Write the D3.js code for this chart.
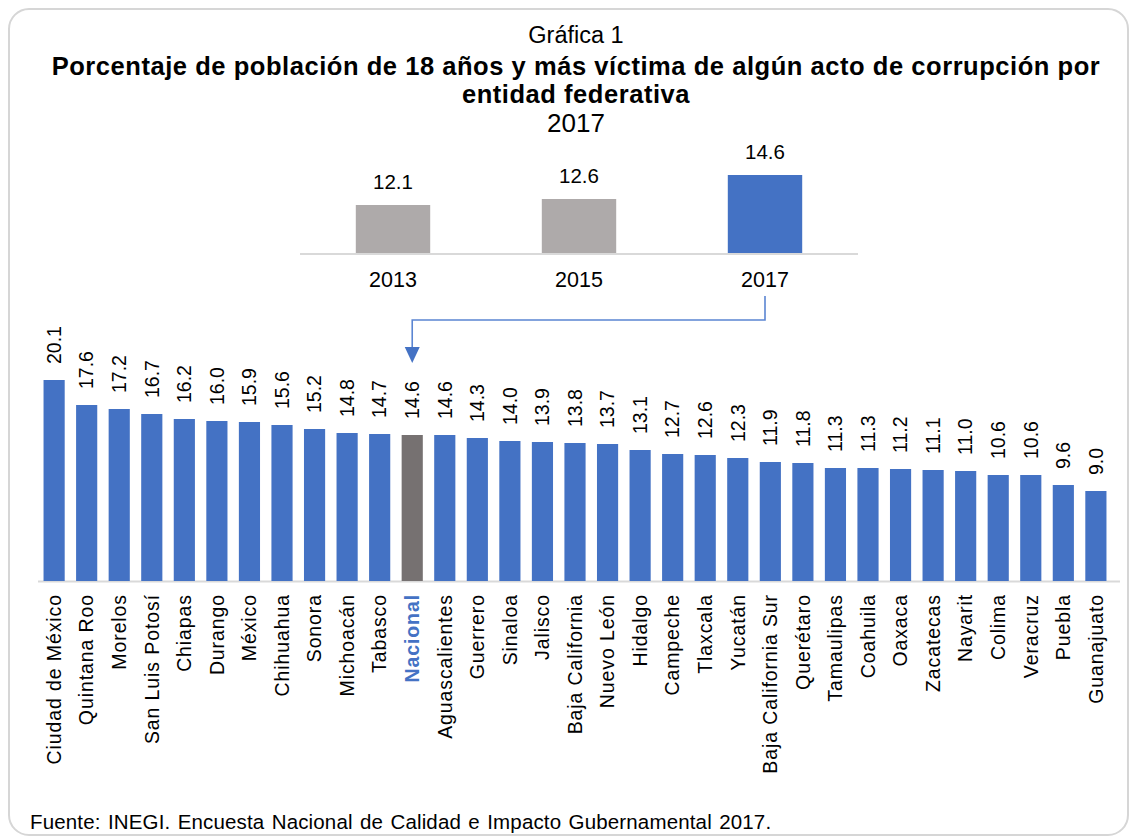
<!DOCTYPE html>
<html>
<head>
<meta charset="utf-8">
<script src="https://cdn.jsdelivr.net/npm/d3@7"></script>
<style>
	html, body { margin: 0; padding: 0; background: #fff; }
	svg { display: block; font-family: "Liberation Sans", Arial, sans-serif; }
</style>
</head>
<body>
<div id="chart"></div>
<script>
// Inset: national value per survey year
var years = ['2013', '2015', '2017'];
var nationalValues = [12.1, 12.6, 14.6];

// Main: states, sorted as in the original
var states = ['Ciudad de México', 'Quintana Roo', 'Morelos', 'San Luis Potosí', 'Chiapas', 'Durango', 'México',
	'Chihuahua', 'Sonora', 'Michoacán', 'Tabasco', 'Nacional', 'Aguascalientes', 'Guerrero', 'Sinaloa', 'Jalisco',
	'Baja California', 'Nuevo León', 'Hidalgo', 'Campeche', 'Tlaxcala', 'Yucatán', 'Baja California Sur', 'Querétaro',
	'Tamaulipas', 'Coahuila', 'Oaxaca', 'Zacatecas', 'Nayarit', 'Colima', 'Veracruz', 'Puebla', 'Guanajuato'];
var stateValues = [20.1, 17.6, 17.2, 16.7, 16.2, 16.0, 15.9, 15.6, 15.2, 14.8, 14.7, 14.6, 14.6, 14.3, 14.0, 13.9,
	13.8, 13.7, 13.1, 12.7, 12.6, 12.3, 11.9, 11.8, 11.3, 11.3, 11.2, 11.1, 11.0, 10.6, 10.6, 9.6, 9.0];

var attrs = {
	width: 1133,
	height: 838,
	blue: '#4472C4',
	grayInset: '#AEAAAA',
	grayNacional: '#767171',
	axisColor: '#D9D9D9',
	textColor: '#000'
};

var fmt = d3.format('.1f');

var svg = d3.select('#chart').append('svg')
	.attr('width', attrs.width)
	.attr('height', attrs.height);

// Frame
svg.append('rect')
	.attr('x', 9).attr('y', 9)
	.attr('width', 1119).attr('height', 826)
	.attr('rx', 20).attr('ry', 20)
	.attr('fill', '#fff')
	.attr('stroke', '#D6D6D6')
	.attr('stroke-width', 2);

// Titles
var cx = 576;
svg.append('text').attr('x', cx).attr('y', 43).attr('text-anchor', 'middle')
	.style('font-size', '23.5px').text('Gráfica 1');
svg.append('text').attr('x', cx).attr('y', 75).attr('text-anchor', 'middle')
	.style('font-size', '25.5px').style('font-weight', 'bold').style('letter-spacing', '0.55px')
	.text('Porcentaje de población de 18 años y más víctima de algún acto de corrupción por');
svg.append('text').attr('x', cx).attr('y', 102.5).attr('text-anchor', 'middle')
	.style('font-size', '25.5px').style('font-weight', 'bold').style('letter-spacing', '0.55px')
	.text('entidad federativa');
svg.append('text').attr('x', cx).attr('y', 132).attr('text-anchor', 'middle')
	.style('font-size', '26px').text('2017');

// ---------- Inset chart ----------
var xi = d3.scaleBand().domain(years).range([300, 858]).paddingInner(0.6).paddingOuter(0.3);
var yi = d3.scaleLinear().domain([8.1, 14.6]).range([253, 175]);
var inset = years.map((y, i) => ({ year: y, value: nationalValues[i] }));

svg.append('line')
	.attr('x1', 300).attr('x2', 858)
	.attr('y1', 254).attr('y2', 254)
	.attr('stroke', attrs.axisColor).attr('stroke-width', 2);

svg.selectAll('.inset-bar').data(inset).enter().append('rect')
	.attr('class', 'inset-bar')
	.attr('x', d => xi(d.year))
	.attr('width', xi.bandwidth())
	.attr('y', d => yi(d.value))
	.attr('height', d => yi.range()[0] - yi(d.value))
	.attr('fill', d => d.year === '2017' ? attrs.blue : attrs.grayInset);

svg.selectAll('.inset-val').data(inset).enter().append('text')
	.attr('class', 'inset-val')
	.attr('x', d => xi(d.year) + xi.bandwidth() / 2)
	.attr('y', d => yi(d.value) - 16)
	.attr('text-anchor', 'middle')
	.style('font-size', '20.5px')
	.text(d => fmt(d.value));

svg.selectAll('.inset-year').data(inset).enter().append('text')
	.attr('class', 'inset-year')
	.attr('x', d => xi(d.year) + xi.bandwidth() / 2)
	.attr('y', 287)
	.attr('text-anchor', 'middle')
	.style('font-size', '21.5px')
	.text(d => d.year);

// ---------- Main chart ----------
var baseY = 581;
var x = d3.scaleBand().domain(states).range([38, 1112]).paddingInner(0.35).paddingOuter(0.17);
var y = d3.scaleLinear().domain([0, 20.1]).range([baseY, 380]);
var data = states.map((s, i) => ({ state: s, value: stateValues[i] }));

svg.append('line')
	.attr('x1', 38).attr('x2', 1120)
	.attr('y1', baseY + 0.5).attr('y2', baseY + 0.5)
	.attr('stroke', attrs.axisColor).attr('stroke-width', 2);

svg.selectAll('.bar').data(data).enter().append('rect')
	.attr('class', 'bar')
	.attr('x', d => x(d.state))
	.attr('width', x.bandwidth())
	.attr('y', d => y(d.value))
	.attr('height', d => baseY - y(d.value))
	.attr('fill', d => d.state === 'Nacional' ? attrs.grayNacional : attrs.blue);

svg.selectAll('.bar-val').data(data).enter().append('text')
	.attr('class', 'bar-val')
	.attr('transform', d => `translate(${x(d.state) + x.bandwidth() / 2},${y(d.value) - 16}) rotate(-90)`)
	.attr('dy', '0.35em')
	.attr('text-anchor', 'start')
	.style('font-size', '19.5px')
	.text(d => fmt(d.value));

svg.selectAll('.cat').data(data).enter().append('text')
	.attr('class', 'cat')
	.attr('transform', d => `translate(${x(d.state) + x.bandwidth() / 2},${baseY + 13}) rotate(-90)`)
	.attr('dy', '0.35em')
	.attr('text-anchor', 'end')
	.style('font-size', '19.5px')
	.style('letter-spacing', '0.9px')
	.style('font-weight', d => d.state === 'Nacional' ? 'bold' : 'normal')
	.attr('fill', d => d.state === 'Nacional' ? attrs.blue : attrs.textColor)
	.text(d => d.state);

// Connector arrow: 2017 inset bar -> Nacional bar
var fromX = xi('2017') + xi.bandwidth() / 2;
var toX = x('Nacional') + x.bandwidth() / 2;
svg.append('path')
	.attr('d', `M${fromX},296 V320 H${toX} V350`)
	.attr('fill', 'none')
	.attr('stroke', '#5B85D2')
	.attr('stroke-width', 1.6);
svg.append('path')
	.attr('d', `M${toX - 7.5},347 L${toX + 7.5},347 L${toX},363 Z`)
	.attr('fill', attrs.blue);

// Source
svg.append('text').attr('x', 30).attr('y', 829)
	.style('font-size', '20.5px').style('word-spacing', '1.5px').style('letter-spacing', '0.15px')
	.text('Fuente: INEGI. Encuesta Nacional de Calidad e Impacto Gubernamental 2017.');
</script>
</body>
</html>
